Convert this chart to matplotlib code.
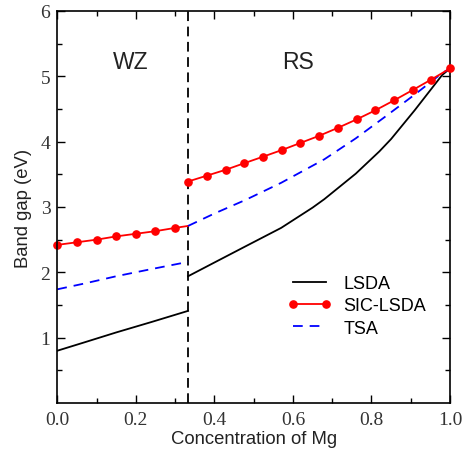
import numpy as np
import matplotlib
matplotlib.use("Agg")
import matplotlib.pyplot as plt

# band gap vs Mg concentration, wurtzite (WZ) and rocksalt (RS) branches
x_boundary = 0.333

lsda_wz_x = [0.0, 0.07, 0.15, 0.24, 0.333]
lsda_wz_y = [0.80, 0.93, 1.08, 1.24, 1.41]
lsda_rs_x = [0.333, 0.40, 0.48, 0.57, 0.65, 0.68, 0.76, 0.82, 0.85, 0.91, 0.98, 1.0]
lsda_rs_y = [1.94, 2.15, 2.40, 2.68, 2.99, 3.12, 3.51, 3.85, 4.04, 4.48, 5.02, 5.12]

tsa_wz_x = [0.0, 0.07, 0.15, 0.24, 0.333]
tsa_wz_y = [1.74, 1.83, 1.94, 2.05, 2.16]
tsa_rs_x = [0.333, 0.40, 0.48, 0.57, 0.68, 0.76, 0.83, 0.91, 0.98, 1.0]
tsa_rs_y = [2.71, 2.90, 3.11, 3.37, 3.73, 4.05, 4.36, 4.72, 5.05, 5.12]

sic_wz_x = [0.0, 0.05, 0.10, 0.15, 0.20, 0.25, 0.30, 0.333]
sic_wz_y = [2.42, 2.46, 2.50, 2.55, 2.59, 2.63, 2.68, 2.71]
sic_rs_x = [0.333, 0.381, 0.429, 0.476, 0.524, 0.571, 0.619, 0.667,
            0.714, 0.762, 0.810, 0.857, 0.905, 0.952, 1.0]
sic_rs_y = [3.39, 3.48, 3.57, 3.67, 3.77, 3.87, 3.98, 4.09,
            4.21, 4.34, 4.48, 4.63, 4.79, 4.95, 5.12]

x_ticks = [0.0, 0.2, 0.4, 0.6, 0.8, 1.0]
x_ticklabels = ["0.0", "0.2", "0.4", "0.6", "0.8", "1.0"]
y_ticks = [1, 2, 3, 4, 5, 6]

plt.rcParams['font.family'] = ['Liberation Sans', 'DejaVu Sans']
plt.rcParams['lines.scale_dashes'] = False

fig = plt.figure(figsize=(4.72, 4.52), dpi=100)
ax = fig.add_axes([0.1214, 0.1062, 0.8320, 0.8673])

lw = 1.3
ax.plot(lsda_wz_x, lsda_wz_y, color='black', lw=lw, label='LSDA')
ax.plot(lsda_rs_x, lsda_rs_y, color='black', lw=lw)

ax.plot(sic_wz_x, sic_wz_y, color='red', lw=lw, marker='o', ms=5.2,
        markevery=list(range(7)), clip_on=False, label='SIC-LSDA')
ax.plot(sic_rs_x, sic_rs_y, color='red', lw=lw, marker='o', ms=5.2,
        clip_on=False, zorder=5)

ax.plot(tsa_wz_x, tsa_wz_y, color='blue', lw=lw, dashes=(7, 5), label='TSA')
ax.plot(tsa_rs_x, tsa_rs_y, color='blue', lw=lw, dashes=(7, 5))

ax.axvline(x_boundary, color='black', lw=lw, dashes=(7, 4), zorder=1)

ax.text(0.187, 5.23, 'WZ', fontsize=16.5, ha='center', va='center', color='#222222')
ax.text(0.612, 5.23, 'RS', fontsize=16.5, ha='center', va='center', color='#222222')

ax.set_xlim(0, 1)
ax.set_ylim(0, 6)
ax.set_xticks(x_ticks)
ax.set_xticklabels(x_ticklabels)
ax.set_yticks(y_ticks)
ax.set_xticks(np.arange(0.1, 1.0, 0.2), minor=True)
ax.set_yticks(np.arange(0.5, 6.0, 1.0), minor=True)
ax.tick_params(which='both', direction='in', top=True, right=True, width=1.0)
ax.tick_params(which='major', length=6)
ax.tick_params(which='minor', length=3.5)
for lab in ax.get_xticklabels() + ax.get_yticklabels():
    lab.set_fontfamily('Liberation Serif')
    lab.set_fontsize(14)
    lab.set_color('#333333')
ax.tick_params(axis='x', pad=6)
ax.tick_params(axis='y', pad=5)
for sp in ax.spines.values():
    sp.set_linewidth(1.2)

ax.set_xlabel('Concentration of Mg', fontsize=13.3, labelpad=1, color='#222222')
ax.set_ylabel('Band gap (eV)', fontsize=13.3, labelpad=6, color='#222222')

ax.legend(loc='upper left', bbox_to_anchor=(0.545, 0.368), frameon=False,
          fontsize=13, numpoints=2, handlelength=2.45, handletextpad=0.65,
          labelspacing=0.3)

fig.savefig('out.png', dpi=100)
